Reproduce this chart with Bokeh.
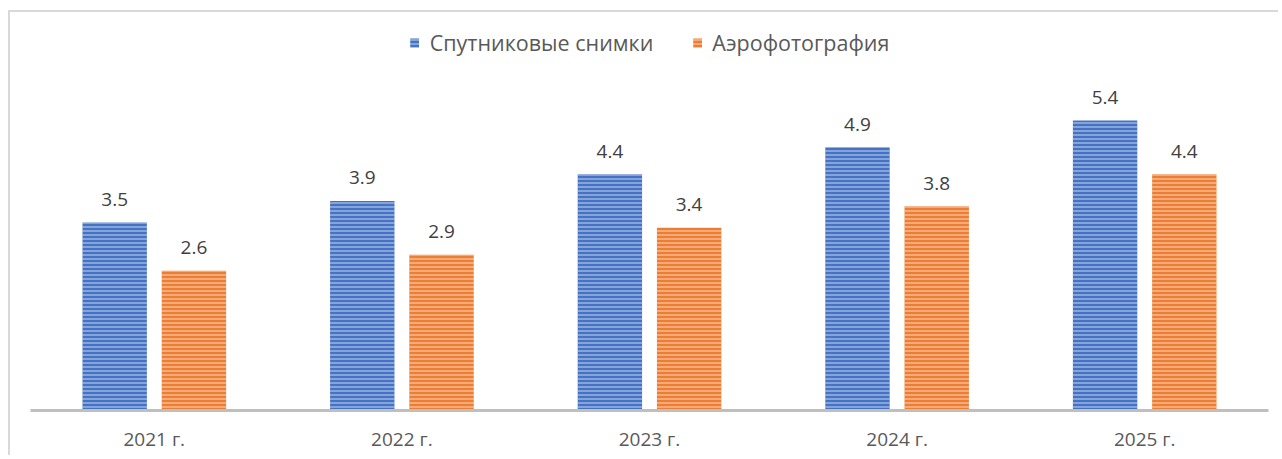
from bokeh.plotting import figure
from bokeh.models import FactorRange, Range1d, ColumnDataSource, Legend, LegendItem
from bokeh.transform import dodge
from bokeh.core.properties import value
from bokeh.embed import file_html
from bokeh.resources import INLINE

years = ["2021 г.", "2022 г.", "2023 г.", "2024 г.", "2025 г."]
satellite = [3.5, 3.9, 4.4, 4.9, 5.4]
aerial = [2.6, 2.9, 3.4, 3.8, 4.4]
series_names = ["Спутниковые снимки", "Аэрофотография"]
colors = ["#4472C4", "#ED7D31"]

FONT = "Open Sans"
src = ColumnDataSource(dict(
    years=years, sat=satellite, aer=aerial,
    sat_lbl=[f"{v:.1f}" for v in satellite],
    aer_lbl=[f"{v:.1f}" for v in aerial],
))

p = figure(
    width=1270, height=445,
    x_range=FactorRange(*years, range_padding=0),
    y_range=Range1d(0, 7.26),
    output_backend="svg", toolbar_location=None,
    min_border_left=20, min_border_right=12, min_border_top=8, min_border_bottom=47,
)
p.styles = {"border-left": "2px solid #d9d9d9", "border-top": "2px solid #d9d9d9",
            "margin-left": "8px", "margin-top": "10px"}

r1 = p.vbar(x=dodge("years", -0.16, range=p.x_range), top="sat", width=0.26, source=src,
            fill_color=colors[0], line_color=None,
            hatch_pattern="horizontal_line", hatch_color="white", hatch_alpha=0.55,
            hatch_weight=1.3, hatch_scale=4)
r2 = p.vbar(x=dodge("years", 0.16, range=p.x_range), top="aer", width=0.26, source=src,
            fill_color=colors[1], line_color=None,
            hatch_pattern="horizontal_line", hatch_color="white", hatch_alpha=0.55,
            hatch_weight=1.3, hatch_scale=4)

for col, lbl, off in [("sat", "sat_lbl", -0.16), ("aer", "aer_lbl", 0.16)]:
    p.text(x=dodge("years", off, range=p.x_range), y=col, text=lbl, source=src,
           text_align="center", text_baseline="alphabetic", y_offset=-23,
           text_font=value(FONT), text_font_size="19px", text_color="#404040")

legend = Legend(items=[LegendItem(label=series_names[0], renderers=[r1]),
                       LegendItem(label=series_names[1], renderers=[r2])],
                location="top_center", orientation="horizontal",
                border_line_color=None, background_fill_alpha=0,
                label_text_font=FONT, label_text_font_size="21.5px", label_text_color="#595959",
                glyph_width=11, glyph_height=11, spacing=38, label_standoff=10,
                margin=8, padding=4)
p.add_layout(legend)

p.xaxis.axis_line_color = "#bfbfbf"
p.xaxis.axis_line_width = 3
p.xaxis.major_tick_line_color = None
p.xaxis.minor_tick_line_color = None
p.xaxis.major_label_text_font = FONT
p.xaxis.major_label_text_font_size = "19px"
p.xaxis.major_label_text_color = "#595959"
p.xaxis.major_label_standoff = 9
p.yaxis.visible = False
p.xgrid.grid_line_color = None
p.ygrid.grid_line_color = None
p.outline_line_color = None

open("out.html", "w").write(file_html(p, INLINE))
